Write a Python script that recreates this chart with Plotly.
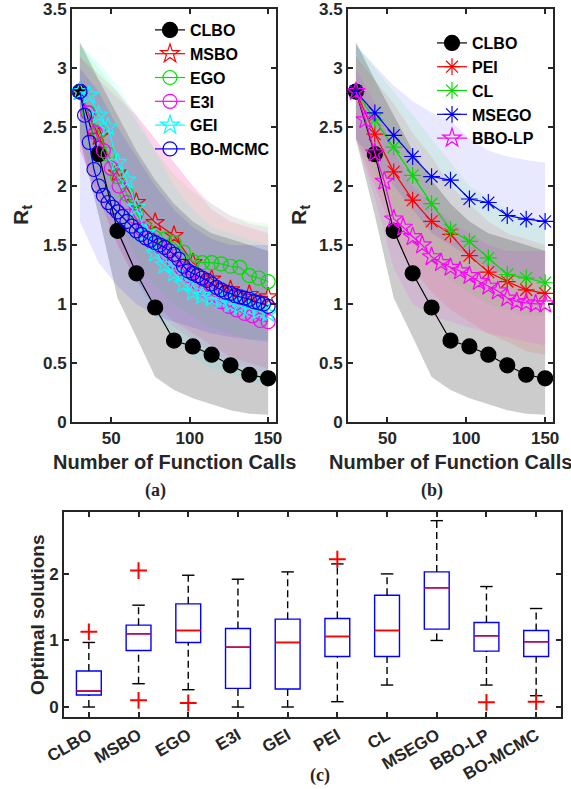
import plotly.graph_objects as go

W, H = 571, 789

# ---------------- Panel (a) data ----------------
x12 = [30, 42, 54, 66, 78, 90, 102, 114, 126, 138, 150]
x6 = [30, 36, 42, 48, 54, 60, 66, 72, 78, 84, 90, 96, 102, 108, 114, 120, 126, 132, 138, 144, 150]
x5 = [30, 35, 40, 45, 50, 55, 60, 65, 70, 75, 80, 85, 90, 95, 100, 105, 110, 115, 120, 125, 130,
      135, 140, 145, 150]
x3 = [30, 33, 36, 39, 42, 45, 48, 51, 54, 57, 60, 63, 66, 69, 72, 75, 78, 81, 84, 87, 90, 93, 96,
      99, 102, 105, 108, 111, 114, 117, 120, 123, 126, 129, 132, 135, 138, 141, 144, 147, 150]

clbo = [2.80, 2.27, 1.62, 1.26, 0.97, 0.69, 0.64, 0.57, 0.48, 0.40, 0.37]
msbo = [2.80, 2.42, 2.11, 1.86, 1.69, 1.58, 1.35, 1.21, 1.12, 1.08, 1.06]
ego = [2.80, 2.62, 2.46, 2.27, 2.08, 1.93, 1.77, 1.64, 1.56, 1.55, 1.52, 1.44, 1.36, 1.35, 1.35,
       1.34, 1.32, 1.31, 1.24, 1.22, 1.19]
e3i = [2.80, 2.62, 2.45, 2.30, 2.15, 2.00, 1.86, 1.74, 1.63, 1.55, 1.49, 1.43, 1.36, 1.30, 1.24,
       1.18, 1.12, 1.07, 1.02, 0.98, 0.95, 0.92, 0.90, 0.86, 0.85]
gei = [2.80, 2.77, 2.60, 2.50, 2.20, 2.05, 1.82, 1.60, 1.43, 1.33, 1.26, 1.17, 1.10, 1.07, 1.05,
       1.03, 1.00, 0.98, 0.96, 0.94, 0.92]
bomcmc = [2.80, 2.60, 2.37, 2.14, 2.00, 1.92, 1.86, 1.82, 1.78, 1.74, 1.70, 1.66, 1.62, 1.59, 1.56,
          1.54, 1.52, 1.50, 1.48, 1.45, 1.42, 1.38, 1.32, 1.28, 1.26, 1.24, 1.22, 1.20, 1.17, 1.14,
          1.12, 1.10, 1.09, 1.07, 1.06, 1.05, 1.04, 1.02, 1.01, 1.00, 0.98]

# bands (upper / lower), sampled at x12
clbo_up = [3.22, 2.90, 2.60, 2.30, 2.05, 1.85, 1.70, 1.60, 1.55, 1.50, 1.45]
clbo_lo = [2.40, 1.75, 1.05, 0.72, 0.38, 0.27, 0.20, 0.15, 0.10, 0.07, 0.06]
msbo_up = [3.10, 2.95, 2.80, 2.60, 2.40, 2.20, 2.00, 1.80, 1.70, 1.65, 1.60]
msbo_lo = [2.30, 1.90, 1.50, 1.20, 1.00, 0.85, 0.75, 0.65, 0.55, 0.50, 0.45]
ego_up = [3.20, 3.00, 2.80, 2.55, 2.30, 2.10, 1.95, 1.85, 1.75, 1.70, 1.68]
ego_lo = [2.40, 2.00, 1.70, 1.40, 1.15, 1.00, 0.90, 0.80, 0.75, 0.70, 0.70]
e3i_up = [3.10, 2.90, 2.75, 2.60, 2.40, 2.20, 2.00, 1.85, 1.75, 1.68, 1.65]
e3i_lo = [2.30, 1.90, 1.50, 1.20, 0.95, 0.80, 0.70, 0.60, 0.50, 0.45, 0.40]
gei_up = [3.20, 3.05, 2.85, 2.60, 2.30, 2.00, 1.80, 1.65, 1.60, 1.55, 1.50]
gei_lo = [2.40, 2.00, 1.60, 1.20, 0.90, 0.70, 0.55, 0.45, 0.40, 0.35, 0.30]
bom_up = [3.00, 2.80, 2.50, 2.25, 2.00, 1.80, 1.65, 1.55, 1.50, 1.50, 1.50]
bom_lo = [1.70, 1.35, 1.15, 1.00, 0.90, 0.85, 0.80, 0.75, 0.72, 0.70, 0.68]

# ---------------- Panel (b) data ----------------
pei = [2.80, 2.44, 2.12, 1.88, 1.70, 1.59, 1.41, 1.27, 1.19, 1.12, 1.09]
cl = [2.80, 2.56, 2.33, 2.09, 1.85, 1.63, 1.53, 1.39, 1.25, 1.22, 1.18]
msego = [2.80, 2.62, 2.43, 2.25, 2.08, 2.05, 1.89, 1.86, 1.75, 1.72, 1.70]
bbolp = [2.80, 2.56, 2.28, 2.04, 1.72, 1.65, 1.57, 1.50, 1.40, 1.35, 1.31, 1.28, 1.24, 1.19, 1.15,
         1.11, 1.05, 1.02, 1.01, 1.00, 1.00]

pei_up = [3.10, 2.90, 2.70, 2.45, 2.25, 2.00, 1.85, 1.70, 1.60, 1.55, 1.50]
pei_lo = [2.40, 2.00, 1.60, 1.30, 1.10, 0.95, 0.85, 0.75, 0.68, 0.60, 0.57]
cl_up = [3.20, 3.00, 2.80, 2.60, 2.40, 2.20, 2.00, 1.90, 1.80, 1.72, 1.65]
cl_lo = [2.40, 2.10, 1.80, 1.55, 1.35, 1.20, 1.10, 1.00, 0.95, 0.90, 0.90]
msego_up = [3.20, 3.02, 2.85, 2.72, 2.62, 2.55, 2.40, 2.30, 2.25, 2.22, 2.20]
msego_lo = [2.40, 2.20, 2.00, 1.80, 1.60, 1.50, 1.40, 1.30, 1.25, 1.20, 1.20]
bbo_up = [3.00, 2.70, 2.30, 2.00, 1.85, 1.70, 1.60, 1.50, 1.45, 1.45, 1.45]
bbo_lo = [2.40, 1.90, 1.30, 1.00, 0.90, 0.85, 0.80, 0.75, 0.72, 0.68, 0.65]

# ---------------- Panel (c) data ----------------
cats = ['CLBO', 'MSBO', 'EGO', 'E3I', 'GEI', 'PEI', 'CL', 'MSEGO', 'BBO-LP', 'BO-MCMC']
pos = [1, 2, 3, 4, 5, 6, 7, 8, 9, 10]
q1 = [0.18, 0.85, 0.97, 0.28, 0.27, 0.76, 0.76, 1.17, 0.84, 0.76]
med = [0.24, 1.10, 1.15, 0.90, 0.97, 1.06, 1.15, 1.79, 1.07, 0.98]
q3 = [0.54, 1.23, 1.55, 1.18, 1.32, 1.33, 1.68, 2.03, 1.27, 1.15]
wlo = [0.00, 0.35, 0.26, 0.00, 0.00, 0.08, 0.33, 1.00, 0.33, 0.17]
whi = [0.97, 1.53, 1.98, 1.92, 2.03, 2.15, 2.00, 2.80, 1.81, 1.48]
out_pos = [1, 2, 2, 3, 6, 9, 10]
out_val = [1.13, 2.05, 0.10, 0.06, 2.22, 0.07, 0.08]

FONT = "Liberation Sans, Arial, sans-serif"
SERIF = "Liberation Serif, Times New Roman, serif"
AXC = '#262626'

fig = go.Figure()


def band(x, up, lo, color, xa, ya):
    fig.add_trace(go.Scatter(x=x + x[::-1], y=up + lo[::-1], fill='toself', fillcolor=color,
                             line=dict(width=0), mode='lines', hoverinfo='skip',
                             showlegend=False, xaxis=xa, yaxis=ya))


def line(x, y, name, color, symbol, size, xa, ya, leg):
    fig.add_trace(go.Scatter(
        x=x, y=y, name=name, mode='lines+markers', xaxis=xa, yaxis=ya, legend=leg,
        line=dict(color=color, width=1.2),
        marker=dict(symbol=symbol, size=size, color=color,
                    line=dict(color=color, width=1.2))))


# panel (a) bands
band(x12, clbo_up, clbo_lo, 'rgba(0,0,0,0.2)', 'x', 'y')
band(x12, msbo_up, msbo_lo, 'rgba(255,0,0,0.09)', 'x', 'y')
band(x12, ego_up, ego_lo, 'rgba(0,255,0,0.09)', 'x', 'y')
band(x12, e3i_up, e3i_lo, 'rgba(255,0,255,0.09)', 'x', 'y')
band(x12, gei_up, gei_lo, 'rgba(0,255,255,0.09)', 'x', 'y')
band(x12, bom_up, bom_lo, 'rgba(0,0,255,0.10)', 'x', 'y')

GREEN = '#00dd00'
line(x12, clbo, 'CLBO', 'black', 'circle', 15, 'x', 'y', 'legend')
line(x12, msbo, 'MSBO', 'red', 'star-open', 14, 'x', 'y', 'legend')
line(x6, ego, 'EGO', GREEN, 'circle-open', 14, 'x', 'y', 'legend')
line(x5, e3i, 'E3I', 'magenta', 'circle-open', 14, 'x', 'y', 'legend')
line(x6, gei, 'GEI', 'cyan', 'star-open', 14, 'x', 'y', 'legend')
line(x3, bomcmc, 'BO-MCMC', 'blue', 'circle-open', 14, 'x', 'y', 'legend')

# panel (b) bands
band(x12, clbo_up, clbo_lo, 'rgba(0,0,0,0.2)', 'x2', 'y2')
band(x12, pei_up, pei_lo, 'rgba(255,0,0,0.09)', 'x2', 'y2')
band(x12, cl_up, cl_lo, 'rgba(0,255,0,0.09)', 'x2', 'y2')
band(x12, msego_up, msego_lo, 'rgba(0,0,255,0.09)', 'x2', 'y2')
band(x12, bbo_up, bbo_lo, 'rgba(255,0,255,0.09)', 'x2', 'y2')

line(x12, clbo, 'CLBO', 'black', 'circle', 15, 'x2', 'y2', 'legend2')
line(x12, pei, 'PEI', 'red', 'asterisk-open', 14, 'x2', 'y2', 'legend2')
line(x12, cl, 'CL', GREEN, 'asterisk-open', 14, 'x2', 'y2', 'legend2')
line(x12, msego, 'MSEGO', 'blue', 'asterisk-open', 14, 'x2', 'y2', 'legend2')
line(x6, bbolp, 'BBO-LP', 'magenta', 'star-open', 14, 'x2', 'y2', 'legend2')

# panel (c) boxes
fig.add_trace(go.Box(x=pos, q1=q1, median=med, q3=q3, lowerfence=q1, upperfence=q3,
                     width=0.5, fillcolor='rgba(0,0,0,0)', line=dict(color='blue', width=1.4),
                     whiskerwidth=0, showlegend=False, xaxis='x3', yaxis='y3', hoverinfo='skip'))
wx, wy, cx, cy, mx, my = [], [], [], [], [], []
for p, a, b, c, d, m in zip(pos, wlo, q1, q3, whi, med):
    wx += [p, p, None, p, p, None]
    wy += [c, d, None, a, b, None]
    cx += [p - 0.125, p + 0.125, None, p - 0.125, p + 0.125, None]
    cy += [d, d, None, a, a, None]
    mx += [p - 0.25, p + 0.25, None]
    my += [m, m, None]
fig.add_trace(go.Scatter(x=wx, y=wy, mode='lines', line=dict(color='black', width=1.4, dash='7px,4px'),
                         showlegend=False, xaxis='x3', yaxis='y3'))
fig.add_trace(go.Scatter(x=cx, y=cy, mode='lines', line=dict(color='black', width=1.4),
                         showlegend=False, xaxis='x3', yaxis='y3'))
fig.add_trace(go.Scatter(x=mx, y=my, mode='lines', line=dict(color='red', width=1.4),
                         showlegend=False, xaxis='x3', yaxis='y3'))
fig.add_trace(go.Scatter(x=out_pos, y=out_val, mode='markers',
                         marker=dict(symbol='cross-thin-open', size=12, color='red',
                                     line=dict(color='red', width=2)),
                         showlegend=False, xaxis='x3', yaxis='y3'))


def px(v):
    return v / W


def py(v):
    return 1 - v / H


axcommon = dict(showline=True, linecolor=AXC, linewidth=2, mirror='ticks', ticks='inside',
                ticklen=5, tickwidth=1.5, tickcolor=AXC, showgrid=False, zeroline=False,
                automargin=False,
                tickfont=dict(family=FONT, size=17, color=AXC, weight='bold'))

fig.update_layout(
    width=W, height=H, margin=dict(l=0, r=0, t=0, b=0, pad=0, autoexpand=False),
    paper_bgcolor='white', plot_bgcolor='white',
    xaxis=dict(domain=[px(72), px(276)], range=[25, 155], tickvals=[50, 100, 150], anchor='y', **axcommon),
    yaxis=dict(domain=[py(422), py(9)], range=[-0.0005, 3.5005], tickvals=[0, 0.5, 1, 1.5, 2, 2.5, 3, 3.5],
               anchor='x', **axcommon),
    xaxis2=dict(domain=[px(348), px(553)], range=[25, 155], tickvals=[50, 100, 150], anchor='y2', **axcommon),
    yaxis2=dict(domain=[py(422), py(9)], range=[-0.0005, 3.5005], tickvals=[0, 0.5, 1, 1.5, 2, 2.5, 3, 3.5],
                anchor='x2', **axcommon),
    xaxis3=dict(domain=[px(64), px(561)], range=[0.5, 10.5], tickvals=pos, ticktext=cats,
                tickangle=-30, anchor='y3', **axcommon),
    yaxis3=dict(domain=[py(717), py(512)], range=[-0.15, 2.93], tickvals=[0, 1, 2], anchor='x3', **axcommon),
    legend=dict(x=px(150), y=py(13), xanchor='left', yanchor='top', bgcolor='rgba(0,0,0,0)',
                font=dict(family=FONT, size=16, color='black', weight='bold'),
                tracegroupgap=0),
    legend2=dict(x=px(432), y=py(26), xanchor='left', yanchor='top', bgcolor='rgba(0,0,0,0)',
                 font=dict(family=FONT, size=16, color='black', weight='bold'),
                 tracegroupgap=0),
    showlegend=True,
)

ann = []


def txt(t, x, y, size, rot=0, family=FONT):
    ann.append(dict(text=t, x=px(x), y=py(y), xref='paper', yref='paper', showarrow=False,
                    textangle=rot, font=dict(family=family, size=size, color=AXC, weight='bold'),
                    xanchor='center', yanchor='middle'))


txt('R<sub>t</sub>', 22, 215, 21, -90)
txt('R<sub>t</sub>', 300, 215, 21, -90)
txt('Number of Function Calls', 174, 462, 20)
txt('Number of Function Calls', 450, 462, 20)
txt('(a)', 155, 490, 18, 0, SERIF)
txt('(b)', 432, 490, 18, 0, SERIF)
txt('(c)', 320, 775, 18, 0, SERIF)
txt('Optimal solutions', 37, 615, 19, -90)
fig.update_layout(annotations=ann)

fig.write_html("out.html", config={'displayModeBar': False},
               post_script="document.body.style.margin='0';document.body.style.padding='0';")
